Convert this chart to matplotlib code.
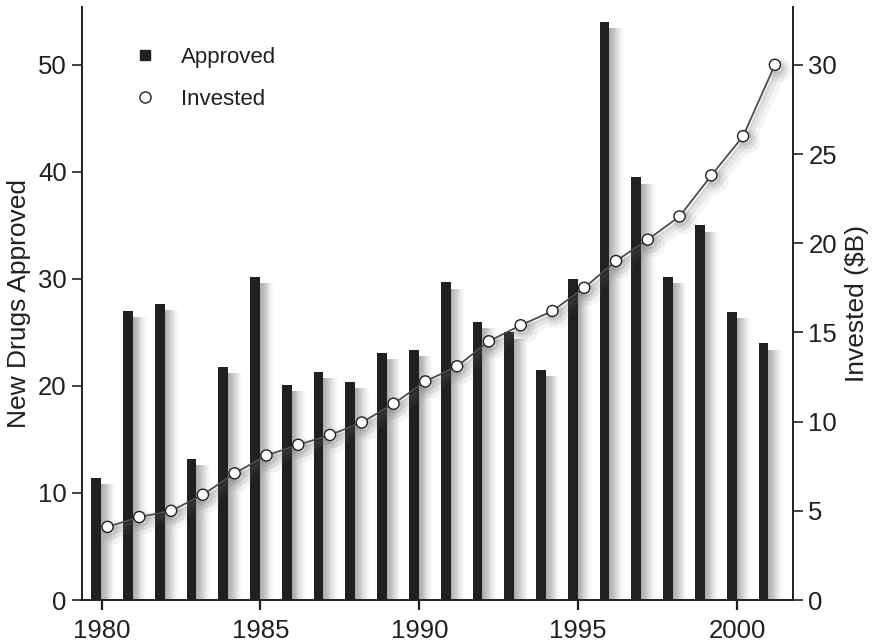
import matplotlib
matplotlib.use("Agg")
import matplotlib.pyplot as plt
import matplotlib.patheffects as pe
from matplotlib.lines import Line2D
import numpy as np

years = list(range(1980, 2002))
approved = [11.4, 27.0, 27.7, 13.2, 21.8, 30.2, 20.1, 21.3, 20.4, 23.1, 23.4,
            29.7, 26.0, 25.0, 21.5, 30.0, 54.0, 39.5, 30.2, 35.0, 26.9, 24.0]
invested = [4.1, 4.65, 5.0, 5.9, 7.1, 8.1, 8.7, 9.25, 9.95, 11.0, 12.25,
            13.1, 14.5, 15.4, 16.2, 17.5, 19.0, 20.2, 21.5, 23.8, 26.0, 30.0]
xticks = [1980, 1985, 1990, 1995, 2000]
left_ticks = [0, 10, 20, 30, 40, 50]
right_ticks = [0, 5, 10, 15, 20, 25, 30]

INK = "#231f20"
FONT = ["Liberation Sans", "DejaVu Sans"]
plt.rcParams["font.family"] = FONT

fig = plt.figure(figsize=(8.73, 6.44), dpi=100)
ax = fig.add_axes([82 / 873, 44 / 644, (793 - 82) / 873, (600 - 7) / 644])
ax2 = ax.twinx()

yrs = np.array(years, dtype=float)
bar_off = -0.17
bar_w = 0.31
mk_off = 0.19

# soft, fading shadows for bars
nsh = 16
for k in range(1, nsh + 1):
    ax.bar(yrs + bar_off + 0.03 * k, np.array(approved) - 0.6, width=bar_w,
           color="#58595b", alpha=0.09 * (1 - k / (nsh + 1)), linewidth=0,
           zorder=1)
ax.bar(yrs + bar_off, approved, width=bar_w, color=INK, linewidth=0, zorder=3,
       label="Approved")

ax.set_xlim(1979.386, 2001.76)
ax.set_ylim(0, 55.4)
ax2.set_ylim(0, 55.4 * 0.6)

ax2.plot(yrs + mk_off, invested, color="#4d4d4f", linewidth=1.3, marker="o",
         markersize=8, markerfacecolor="white", markeredgecolor=INK,
         markeredgewidth=1.0, zorder=5,
         path_effects=[pe.SimpleLineShadow(offset=(4, -4), shadow_color="#6d6e71",
                                           alpha=0.07, linewidth=9),
                       pe.SimpleLineShadow(offset=(3, -3), shadow_color="#6d6e71",
                                           alpha=0.1, linewidth=5),
                       pe.SimpleLineShadow(offset=(2, -2), shadow_color="#6d6e71",
                                           alpha=0.12, linewidth=2),
                       pe.Normal()])

ax.set_xticks(xticks)
ax.set_xticklabels([str(t) for t in xticks])
ax.set_yticks(left_ticks)
ax2.set_yticks(right_ticks)

for a in (ax, ax2):
    for s in a.spines.values():
        s.set_linewidth(1.4)
        s.set_color(INK)
    a.spines["top"].set_visible(False)
    a.tick_params(axis="both", direction="out", length=7, width=1.2,
                  colors=INK, labelsize=18.5, pad=4)
ax.spines["right"].set_visible(False)
ax2.spines["left"].set_visible(False)
ax2.spines["bottom"].set_visible(False)
ax.tick_params(axis="x", pad=7, width=1.6)

ax.set_ylabel("New Drugs Approved", fontsize=19, color=INK, labelpad=5)
ax2.set_ylabel("Invested ($B)", fontsize=19, color=INK, labelpad=6)

ax.set_zorder(ax2.get_zorder() - 1)
ax2.patch.set_visible(False)

handles = [
    Line2D([], [], marker="s", linestyle="none", color=INK, markersize=7.5),
    Line2D([], [], marker="o", linestyle="none", markerfacecolor="white",
           markeredgecolor=INK, markeredgewidth=1.0, markersize=8),
]
leg = ax2.legend(handles, ["Approved", "Invested"], loc="upper left",
                 bbox_to_anchor=(114 / 873, 1 - 38 / 644),
                 bbox_transform=fig.transFigure, frameon=False, fontsize=16,
                 handletextpad=0.6, labelspacing=0.93, borderaxespad=0)
for t in leg.get_texts():
    t.set_color(INK)

fig.savefig("out.png", dpi=100)
